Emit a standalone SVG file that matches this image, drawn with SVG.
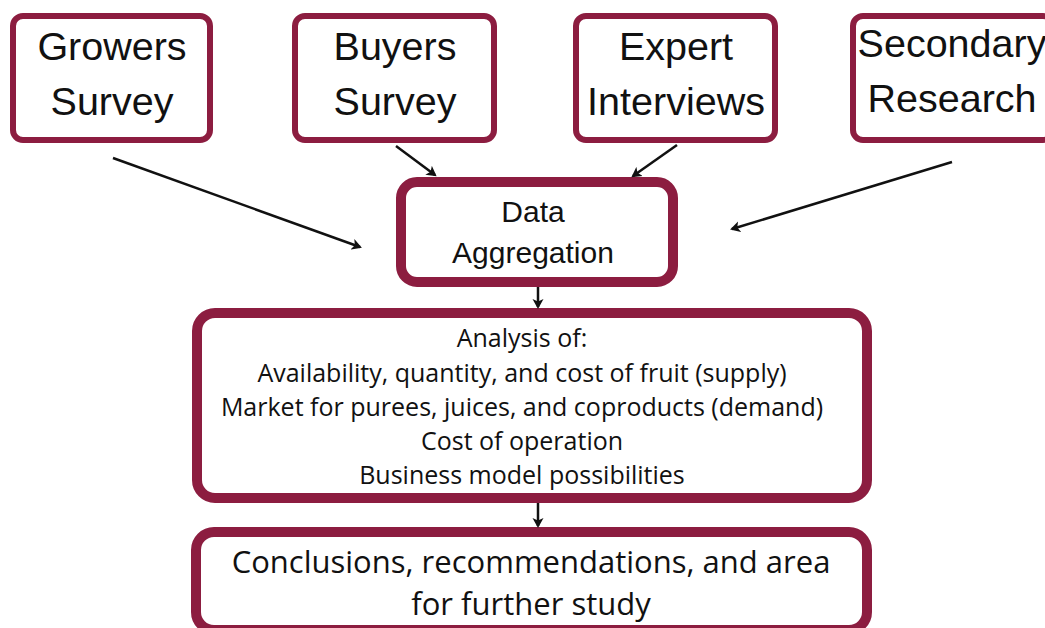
<svg xmlns="http://www.w3.org/2000/svg" width="1045" height="628" viewBox="0 0 1045 628">
<style>
.box{fill:#fff;stroke:#8c1d40}
.thin{stroke-width:6}
.thick{stroke-width:10}
.ts{font-family:"Liberation Sans",Arial,sans-serif;fill:#111;text-anchor:middle}
.os{font-family:"Open Sans","Noto Sans",sans-serif;fill:#111;text-anchor:middle}
.conn line{stroke:#111;stroke-width:2.5;marker-end:url(#ah)}
</style>
<defs>
<marker id="ah" markerWidth="12" markerHeight="12" refX="8" refY="6" orient="auto" markerUnits="userSpaceOnUse">
<path d="M0,0.5 L10,6 L0,11.5 L2.5,6 Z" fill="#111"/>
</marker>
</defs>
<rect width="1045" height="628" fill="#fff"/>
<g id="growers">
<rect class="box thin" x="13" y="16" width="197" height="124" rx="10"/>
<text class="ts" font-size="39.5" x="112" y="60">Growers</text>
<text class="ts" font-size="39.5" x="112" y="115">Survey</text>
</g>
<g id="buyers">
<rect class="box thin" x="295" y="16" width="199" height="124" rx="10"/>
<text class="ts" font-size="39.5" x="395" y="60">Buyers</text>
<text class="ts" font-size="39.5" x="395" y="115">Survey</text>
</g>
<g id="expert">
<rect class="box thin" x="576" y="16" width="199" height="124" rx="10"/>
<text class="ts" font-size="39.5" x="676" y="60">Expert</text>
<text class="ts" font-size="39.5" x="676" y="115">Interviews</text>
</g>
<g id="secondary">
<rect class="box thin" x="853" y="16" width="200" height="124" rx="10"/>
<text class="ts" font-size="39.5" x="952" y="57">Secondary</text>
<text class="ts" font-size="39.5" x="952" y="112">Research</text>
</g>
<g id="aggregation">
<rect class="box thick" x="401" y="182" width="272" height="100" rx="16"/>
<text class="ts" font-size="30" x="533" y="222">Data</text>
<text class="ts" font-size="30" x="533" y="263">Aggregation</text>
</g>
<g id="analysis">
<rect class="box thick" x="197" y="313" width="670" height="185" rx="18"/>
<text class="os" font-size="25" x="522" y="347">Analysis of:</text>
<text class="os" font-size="25" x="522" y="382">Availability, quantity, and cost of fruit (supply)</text>
<text class="os" font-size="25" x="522" y="416">Market for purees, juices, and coproducts (demand)</text>
<text class="os" font-size="25" x="522" y="450">Cost of operation</text>
<text class="os" font-size="25" x="522" y="484">Business model possibilities</text>
</g>
<g id="conclusions">
<rect class="box thick" x="196" y="532" width="671" height="98" rx="18"/>
<text class="os" font-size="31" x="531" y="573">Conclusions, recommendations, and area</text>
<text class="os" font-size="31" x="531" y="615">for further study</text>
</g>
<g id="connectors" class="conn">
<line x1="113" y1="158" x2="360" y2="247"/>
<line x1="396" y1="146" x2="435" y2="175"/>
<line x1="677" y1="145" x2="633" y2="176"/>
<line x1="952" y1="162" x2="732" y2="229"/>
<line x1="538" y1="287" x2="538" y2="307"/>
<line x1="538" y1="503" x2="538" y2="526"/>
</g>
</svg>
